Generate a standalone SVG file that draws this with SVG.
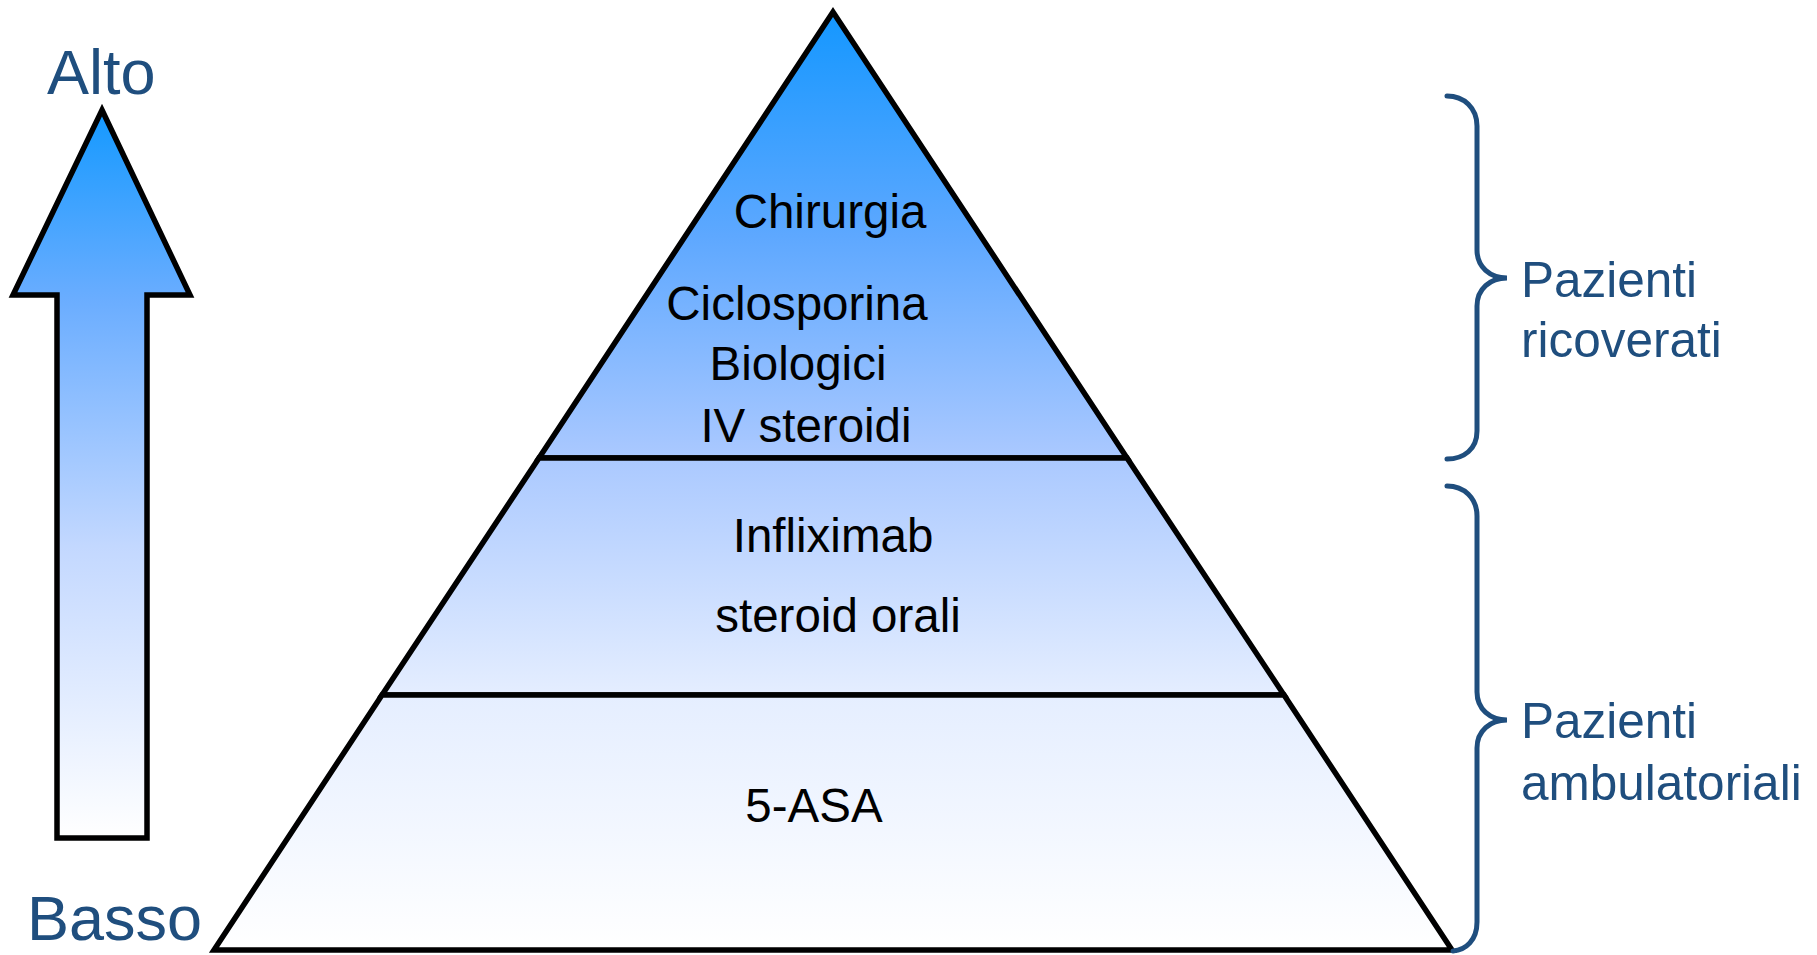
<svg xmlns="http://www.w3.org/2000/svg" width="1817" height="955" viewBox="0 0 1817 955">
<style>
.lbl{font-family:"Liberation Sans",Arial,sans-serif;font-size:47.5px;fill:#000;text-anchor:middle}
.blue{font-family:"Liberation Sans",Arial,sans-serif;fill:#1F4E7E}
.layer{fill:url(#pyr);stroke:#000;stroke-width:5.5;stroke-linejoin:miter}
.brace{fill:none;stroke:#1F4E7E;stroke-width:5;stroke-linecap:round}
</style>
<defs>
<linearGradient id="pyr" gradientUnits="userSpaceOnUse" x1="0" y1="12" x2="0" y2="950">
<stop offset="0" stop-color="#1497FF"/>
<stop offset="0.24" stop-color="#5EA8FF"/>
<stop offset="0.47" stop-color="#A9C8FF"/>
<stop offset="0.73" stop-color="#E5EEFF"/>
<stop offset="1" stop-color="#FFFFFF"/>
</linearGradient>
<linearGradient id="arr" gradientUnits="userSpaceOnUse" x1="0" y1="110" x2="0" y2="838">
<stop offset="0" stop-color="#1499FF"/>
<stop offset="0.26" stop-color="#6AADFF"/>
<stop offset="0.6" stop-color="#C3D8FF"/>
<stop offset="1" stop-color="#FFFFFF"/>
</linearGradient>
</defs>
<rect width="1817" height="955" fill="#FFFFFF"/>

<g id="arrow">
<polygon points="102,110 190,295 147,295 147,838 57,838 57,295 13,295" fill="url(#arr)" stroke="#000" stroke-width="5.5" stroke-linejoin="miter"/>
<text class="blue" x="47" y="94" font-size="63">Alto</text>
<text class="blue" x="27" y="940" font-size="63">Basso</text>
</g>

<g id="layer-top">
<polygon class="layer" points="833,12 1127,458 539,458"/>
<text class="lbl" x="830" y="228">Chirurgia</text>
<text class="lbl" x="797" y="320">Ciclosporina</text>
<text class="lbl" x="798" y="380">Biologici</text>
<text class="lbl" x="806" y="442">IV steroidi</text>
</g>

<g id="layer-middle">
<polygon class="layer" points="539,458 1127,458 1284,695 382,695"/>
<text class="lbl" x="833" y="552">Infliximab</text>
<text class="lbl" x="838" y="632">steroid orali</text>
</g>

<g id="layer-bottom">
<polygon class="layer" points="382,695 1284,695 1452,950 214,950"/>
<text class="lbl" x="814" y="822">5-ASA</text>
</g>

<g id="connectors">
<g id="brace-ricoverati">
<path class="brace" d="M1447,96 C1464,96 1477,108 1477,126 L1477,250 C1477,267 1490,278 1507,278 C1490,278 1477,289 1477,306 L1477,431 C1477,449 1464,459 1447,459"/>
<text class="blue" x="1521" y="297" font-size="49.5">Pazienti</text>
<text class="blue" x="1521" y="357" font-size="49.5">ricoverati</text>
</g>
<g id="brace-ambulatoriali">
<path class="brace" d="M1447,486 C1464,486 1477,498 1477,516 L1477,692 C1477,709 1490,720 1507,720 C1490,720 1477,731 1477,748 L1477,922 C1477,940 1466,950 1453,951"/>
<text class="blue" x="1521" y="738" font-size="49.5">Pazienti</text>
<text class="blue" x="1521" y="800" font-size="49.5">ambulatoriali</text>
</g>
</g>
</svg>
